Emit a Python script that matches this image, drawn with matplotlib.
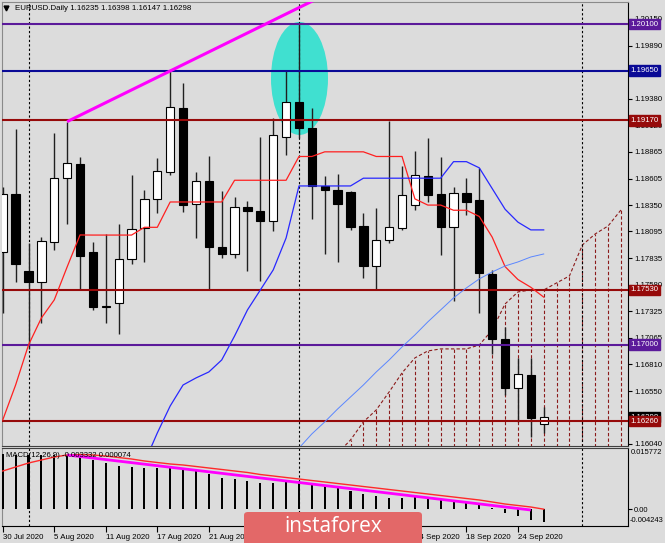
import matplotlib
matplotlib.use('Agg')
import matplotlib.pyplot as plt
import numpy as np
from matplotlib.patches import Ellipse, FancyBboxPatch
from matplotlib.transforms import blended_transform_factory

plt.rcParams['font.family'] = ['Liberation Sans', 'DejaVu Sans']

# ---------------- data ----------------
date_labels = ['30 Jul 2020', '5 Aug 2020', '11 Aug 2020', '17 Aug 2020', '21 Aug 2020',
               '27 Aug 2020', '2 Sep 2020', '8 Sep 2020', '14 Sep 2020', '18 Sep 2020', '24 Sep 2020']
date_label_bars = [0, 4, 8, 12, 16, 20, 24, 28, 32, 36, 40]

open_ = [1.17897, 1.18458, 1.17713, 1.17604, 1.17996, 1.18612, 1.18745, 1.17894, 1.17360, 1.17401,
         1.17826, 1.18124, 1.18409, 1.18666, 1.19292, 1.18358, 1.18583, 1.17948, 1.17874, 1.18329,
         1.18293, 1.18199, 1.19012, 1.19344, 1.19093, 1.18535, 1.18496, 1.18480, 1.18148, 1.17764,
         1.18013, 1.18132, 1.18351, 1.18632, 1.18455, 1.18136, 1.18464, 1.18400, 1.17684, 1.17055,
         1.16584, 1.16707, 1.16235]
high = [1.18520, 1.19086, 1.17984, 1.18045, 1.19045, 1.19157, 1.18818, 1.17997, 1.18068, 1.18165,
        1.18641, 1.18496, 1.18803, 1.19647, 1.19528, 1.18673, 1.18828, 1.18490, 1.18426, 1.18390,
        1.19006, 1.19190, 1.19650, 1.20110, 1.19286, 1.18632, 1.18648, 1.18490, 1.18271, 1.18319,
        1.19167, 1.18728, 1.18874, 1.18996, 1.18813, 1.18522, 1.18609, 1.18706, 1.17718, 1.17174,
        1.16875, 1.16869, 1.16398]
low = [1.17307, 1.17607, 1.16960, 1.17207, 1.17916, 1.18165, 1.17536, 1.17336, 1.17207, 1.17100,
       1.17784, 1.17803, 1.18277, 1.18637, 1.18287, 1.18035, 1.17529, 1.17836, 1.17836, 1.17716,
       1.17616, 1.18100, 1.18835, 1.18996, 1.18213, 1.17877, 1.17803, 1.18110, 1.17642, 1.17529,
       1.17981, 1.18110, 1.18303, 1.18383, 1.17868, 1.17426, 1.18255, 1.17310, 1.16907, 1.16514,
       1.16256, 1.16111, 1.16147]
close = [1.18458, 1.17781, 1.17602, 1.18003, 1.18615, 1.18755, 1.17858, 1.17362, 1.17377, 1.17826,
         1.18116, 1.18406, 1.18680, 1.19296, 1.18351, 1.18583, 1.17948, 1.17874, 1.18329, 1.18293,
         1.18199, 1.19028, 1.19344, 1.19099, 1.18535, 1.18496, 1.18361, 1.18142, 1.17764, 1.18013,
         1.18142, 1.18448, 1.18641, 1.18448, 1.18136, 1.18464, 1.18377, 1.17691, 1.17053, 1.16584,
         1.16714, 1.16294, 1.16298]

tenkan = [1.16272, 1.16610, 1.16997, 1.17258, 1.17433, 1.17752, 1.18061, 1.1806, 1.1806, 1.1806,
          1.1806, 1.18135, 1.18135, 1.1838, 1.1838, 1.1838, 1.1838, 1.1838, 1.1859, 1.1859,
          1.1859, 1.1859, 1.1859, 1.1882, 1.1882, 1.18865, 1.18865, 1.18865, 1.18865, 1.1882,
          1.1882, 1.1882, 1.1841, 1.1835, 1.1835, 1.1830, 1.1830, 1.1824, 1.1804, 1.17755,
          1.1763, 1.17555, 1.1746]
kijun_start = 11
kijun = [1.1586, 1.16146, 1.16407, 1.16610, 1.16678, 1.16736, 1.16852, 1.17084, 1.17336, 1.17529,
         1.17723, 1.18032, 1.18535, 1.18535, 1.18535, 1.18535, 1.18535, 1.1861, 1.1861, 1.1861,
         1.1861, 1.1861, 1.1861, 1.1861, 1.1877, 1.1877, 1.1871, 1.1851, 1.1831, 1.18185,
         1.1811, 1.1811]
ma_start = 23
ma_line = [1.1600, 1.16137, 1.16253, 1.16378, 1.16494, 1.16610, 1.16736, 1.16852, 1.16978, 1.17094,
           1.17220, 1.17336, 1.17452, 1.17549, 1.17636, 1.17703, 1.17761, 1.17800, 1.17848, 1.17877]
cloud_start = 26
cloud_top = [1.1595, 1.16078, 1.16253, 1.16369, 1.16543, 1.16727, 1.16872, 1.16939, 1.16959, 1.16959,
             1.16959, 1.16997, 1.17142, 1.17394, 1.17510, 1.17529, 1.17529, 1.17597, 1.17665, 1.17964,
             1.18071, 1.18148, 1.18303]

levels = [1.20100, 1.19650, 1.19170, 1.17530, 1.17000, 1.16260]
level_names = ['1.20100', '1.19650', '1.19170', '1.17530', '1.17000', '1.16260']
last_price = 1.16298

trend_bars = [5, 13]
trend_prices = [1.19157, 1.19647]

month_sep_bars = [2, 23, 45]

price_ticks = [1.20150, 1.19890, 1.19635, 1.19380, 1.19120, 1.18865, 1.18605, 1.18350, 1.18095,
               1.17835, 1.17580, 1.17325, 1.17065, 1.16810, 1.16550, 1.16290, 1.16040]
price_tick_labels = ['1.20150', '1.19890', '', '1.19380', '1.19120', '1.18865', '1.18605', '1.18350',
                     '1.18095', '1.17835', '1.17580', '1.17325', '1.17065', '1.16810', '1.16550', '',
                     '1.16040']

macd_hist = [0.0142, 0.0140, 0.0139, 0.0139, 0.0140, 0.0140, 0.01354, 0.01269, 0.01185, 0.01123,
             0.01082, 0.01056, 0.01072, 0.01097, 0.01056, 0.01013, 0.00910, 0.00815, 0.00774, 0.00730,
             0.00671, 0.00687, 0.00738, 0.00740, 0.00671, 0.00610, 0.00543, 0.00482, 0.00389, 0.00346,
             0.00302, 0.00302, 0.00312, 0.00287, 0.00261, 0.00217, 0.00184, 0.00140, 0.00030, -0.00083,
             -0.00168, -0.00270, -0.003332]
macd_signal = [0.00987, 0.01090, 0.01192, 0.01269, 0.01346, 0.01398, 0.01410, 0.01398, 0.01372, 0.01333,
               0.01295, 0.01244, 0.01205, 0.01167, 0.01141, 0.01103, 0.01064, 0.01026, 0.00987, 0.00949,
               0.00897, 0.00859, 0.00820, 0.00782, 0.00743, 0.00705, 0.00666, 0.00628, 0.00589, 0.00551,
               0.00512, 0.00474, 0.00435, 0.00397, 0.00358, 0.00320, 0.00281, 0.00243, 0.00192, 0.00140,
               0.00102, 0.00063, 0.000074]
macd_trend_bars = [5, 41]
macd_trend_vals = [0.013976, -0.00014]
macd_top, macd_bottom = 0.015772, -0.004243

# ---------------- figure ----------------
W, H = 665, 543
BG = '#dcdcdc'
fig = plt.figure(figsize=(W / 100, H / 100), dpi=100, facecolor=BG)

def fx(px):
    return px / W

def fy(py):
    return 1 - py / H

ax = fig.add_axes([fx(2), fy(446), fx(628) - fx(2), fy(2) - fy(446)], facecolor=BG)
ax2 = fig.add_axes([fx(2), fy(526), fx(628) - fx(2), fy(448) - fy(526)], facecolor=BG, sharex=ax)

x = np.arange(len(close))
o = np.array(open_); h = np.array(high); l = np.array(low); c = np.array(close)
bar_px = 12.88
xmin = (2 - 2.74) / bar_px
xmax = (628 - 2.74) / bar_px
ax.set_xlim(xmin, xmax)
ax.set_ylim(1.16020, 1.20314)

DRED = '#960a0a'
PURP = '#5b1a9a'
DBLUE = '#0a0a96'
level_colors = [PURP, DBLUE, DRED, DRED, PURP, DRED]

# ellipse highlight
ell = Ellipse((23.04, 1.19575), width=57 / bar_px, height=0.01093, facecolor='#40e0d0',
              edgecolor='none', zorder=0.5)
ax.add_patch(ell)

# cloud (dashed)
cx = np.arange(cloud_start, cloud_start + len(cloud_top))
ax.plot(cx, cloud_top, color='#8b1a1a', lw=0.8, ls=(0, (3, 2)), zorder=1)
ax.vlines(cx[1:], 1.1590, np.array(cloud_top)[1:], colors='#8b1a1a', lw=0.8,
          linestyles=(0, (3, 2)), zorder=1)

# month separators
for b in month_sep_bars:
    ax.axvline(b, color='black', lw=0.8, ls=(0, (2, 2)), zorder=1.2)
    ax2.axvline(b, color='black', lw=0.8, ls=(0, (2, 2)), zorder=1.2)

# candles
up = c >= o
ax.vlines(x, l, h, color='#202020', lw=1.0, zorder=3)
bb = np.minimum(o, c)
bh = np.maximum(np.abs(c - o), 0.00005)
ax.bar(x[up], bh[up], bottom=bb[up], width=0.64, color='white', edgecolor='black', lw=0.8, zorder=4)
ax.bar(x[~up], bh[~up], bottom=bb[~up], width=0.64, color='black', edgecolor='black', lw=0.8, zorder=4)

# horizontal levels
for lv, col in zip(levels, level_colors):
    ax.axhline(lv, color=col, lw=1.5, zorder=5)

# indicators
ax.plot(x, tenkan, color='#ff2020', lw=0.9, zorder=6)
ax.plot(np.arange(kijun_start, kijun_start + len(kijun)), kijun, color='#2828ff', lw=0.9, zorder=6)
ax.plot(np.arange(ma_start, ma_start + len(ma_line)), ma_line, color='#5a86ff', lw=0.7, zorder=6)

# magenta trendline
slope = (trend_prices[1] - trend_prices[0]) / (trend_bars[1] - trend_bars[0])
tx = np.array([trend_bars[0], 30])
ax.plot(tx, trend_prices[0] + (tx - trend_bars[0]) * slope, color='#ff00ff', lw=2.2, zorder=6,
        solid_capstyle='butt')

# axes styling main
for s in ['left', 'top']:
    ax.spines[s].set_color('#8a8a8a')
ax.spines['right'].set_color('black')
ax.spines['bottom'].set_color('#404040')
ax.yaxis.tick_right()
ax.set_yticks(price_ticks)
ax.set_yticklabels(price_tick_labels)
ax.tick_params(axis='y', direction='out', length=3, width=0.8, labelsize=5.6, pad=1.5,
               colors='black')
ax.tick_params(axis='x', bottom=False, labelbottom=False)

# right price labels
tr = blended_transform_factory(fig.transFigure, ax.transData)
ax.text(fx(630.5), last_price, '%.5f' % last_price, transform=tr, ha='left', va='center',
        fontsize=5.6, color='white', zorder=20, clip_on=False,
        bbox=dict(boxstyle='square,pad=0.22', fc='black', ec='black'))
for lv, name, col in zip(levels, level_names, level_colors):
    ax.text(fx(630.5), lv, name, transform=tr, ha='left', va='center', fontsize=5.6,
            color='white', zorder=21, clip_on=False,
            bbox=dict(boxstyle='square,pad=0.22', fc=col, ec=col))

# title
ax.plot([fx(6)], [fy(8)], marker='v', color='black', markersize=3.5, transform=fig.transFigure,
        clip_on=False)
fig.text(fx(15), fy(8), 'EURUSD.Daily 1.16235 1.16398 1.16147 1.16298', fontsize=5.7,
         color='black', ha='left', va='center')

# ---------------- MACD ----------------
ax2.set_ylim(macd_bottom, macd_top)
ax2.bar(x, macd_hist, width=0.16, color='black', zorder=3)
ax2.plot(x, macd_signal, color='#ff2a2a', lw=1.0, zorder=4)
ax2.plot(macd_trend_bars, macd_trend_vals, color='#ff00ff', lw=2.0, zorder=5,
         solid_capstyle='butt')
ax2.spines['left'].set_color('#8a8a8a')
ax2.spines['top'].set_color('#404040')
ax2.spines['right'].set_color('black')
ax2.spines['bottom'].set_color('black')
ax2.yaxis.tick_right()
ax2.set_yticks([0.0])
ax2.set_yticklabels(['0.00'])
ax2.tick_params(axis='y', direction='out', length=3, width=0.8, labelsize=5.4, pad=1.5,
                colors='black')
tr2 = blended_transform_factory(fig.transFigure, ax2.transAxes)
ax2.text(fx(630.5), 0.985, '0.015772', transform=tr2, ha='left', va='top', fontsize=5.4,
         clip_on=False)
ax2.text(fx(630), 0.02, '-0.004243', transform=tr2, ha='left', va='bottom', fontsize=5.4,
         clip_on=False)
ax2.text(0.006, 0.90, 'MACD(12,26,9) -0.003332 0.000074', transform=ax2.transAxes, fontsize=5.6,
         ha='left', va='center', zorder=10)

ax2.set_xticks(date_label_bars)
ax2.set_xticklabels(date_labels, ha='left')
ax2.tick_params(axis='x', direction='out', length=4, width=0.8, labelsize=5.7, pad=1.5,
                colors='black')

# ---------------- logo ----------------
logo = FancyBboxPatch((fx(244), fy(550)), fx(178), fy(512) - fy(550),
                      boxstyle='round,pad=0,rounding_size=0.006', transform=fig.transFigure,
                      facecolor='#e36868', edgecolor='none', zorder=30)
fig.add_artist(logo)
fig.text(fx(333), fy(526), 'instaforex', fontsize=15, color='white', ha='center', va='center',
         family=['Open Sans', 'DejaVu Sans'], zorder=31)

fig.savefig('out.png', dpi=100, facecolor=BG)
